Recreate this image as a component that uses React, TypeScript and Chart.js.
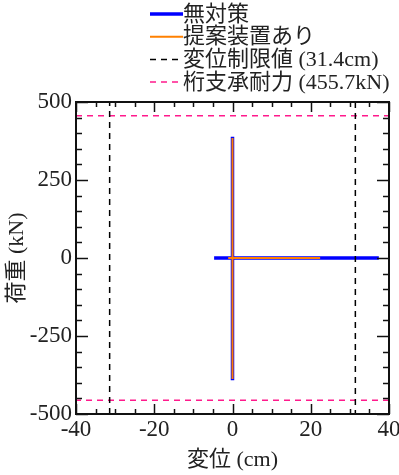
import React, { useEffect, useRef } from 'react';
import { Chart, registerables } from 'chart.js';

Chart.register(...registerables);

// ---- data ----
const seriesNames = ['無対策', '提案装置あり', '変位制限値 (31.4cm)', '桁支承耐力 (455.7kN)'];
const noMeasureX = [0, 0, 0, 0, -4.7, 37.4];
const noMeasureY = [0, 389, -392, 0, 0, 0];
const proposedX = [0, 0, 0, 0, -1.1, 22.4];
const proposedY = [0, 385, -388, 0, 0, 0];
const dispLimit = 31.4; // cm
const bearingCap = 455.7; // kN
const xRange = [-40, 40];
const yRange = [-500, 500];
const xStep = 20;
const yStep = 250;
const xMinorStep = 5;
const yMinorStep = 50;
const xTitle = '変位 (cm)';
const yTitle = '荷重 (kN)';

const colors = ['#0000ff', '#ff8000', '#000000', '#ff1a8c'];
const FONT = "'Liberation Serif', 'Noto Sans CJK JP', serif";

const framePlugin = {
  id: 'frameTicks',
  afterDatasetsDraw(chart: any) {
    const { ctx, chartArea, scales } = chart;
    const { left, right, top, bottom } = chartArea;
    const x = scales.x;
    const y = scales.y;
    ctx.save();
    ctx.strokeStyle = '#111';
    ctx.lineWidth = 1.5;
    ctx.setLineDash([]);
    const seg = (x1: number, y1: number, x2: number, y2: number) => {
      ctx.beginPath();
      ctx.moveTo(x1, y1);
      ctx.lineTo(x2, y2);
      ctx.stroke();
    };
    for (let v = xRange[0]; v <= xRange[1] + 1e-9; v += xMinorStep) {
      const px = Math.round(x.getPixelForValue(v)) + 0.5;
      const len = Math.abs(v % xStep) < 1e-9 ? 10 : 5;
      seg(px, bottom, px, bottom - len);
      seg(px, top, px, top + len);
    }
    for (let v = yRange[0]; v <= yRange[1] + 1e-9; v += yMinorStep) {
      const py = Math.round(y.getPixelForValue(v)) + 0.5;
      const len = Math.abs(v % yStep) < 1e-9 ? 12 : 6;
      seg(left, py, left + len, py);
      seg(right, py, right - len, py);
    }
    ctx.lineWidth = 2;
    ctx.strokeRect(left, top, right - left, bottom - top);
    ctx.restore();
  },
  afterDraw(chart: any) {
    const { ctx } = chart;
    ctx.save();
    const x0 = 150;
    const x1 = 183;
    const rowY = [14, 36.7, 59.4, 82];
    const widths = [3.5, 2, 1.5, 1.5];
    const dashes = [[], [], [6, 5], [6, 5]];
    ctx.font = `22px ${FONT}`;
    ctx.textBaseline = 'middle';
    ctx.textAlign = 'left';
    seriesNames.forEach((name, i) => {
      ctx.strokeStyle = colors[i];
      ctx.lineWidth = widths[i];
      ctx.setLineDash(dashes[i]);
      ctx.beginPath();
      ctx.moveTo(x0, rowY[i]);
      ctx.lineTo(x1, rowY[i]);
      ctx.stroke();
      ctx.setLineDash([]);
      ctx.fillStyle = '#222';
      ctx.fillText(name, x1, rowY[i] + 1);
    });
    ctx.restore();
  },
};

export default function App() {
  const ref = useRef<HTMLCanvasElement | null>(null);
  useEffect(() => {
    document.body.style.margin = '0';
    const canvas = ref.current!;
    const toPts = (xs: number[], ys: number[]) => xs.map((v, i) => ({ x: v, y: ys[i] }));
    const chart = new Chart(canvas, {
      type: 'line',
      data: {
        datasets: [
          {
            label: seriesNames[0],
            data: toPts(noMeasureX, noMeasureY),
            borderColor: colors[0],
            borderWidth: 3.5,
            pointRadius: 0,
            order: 4,
          },
          {
            label: seriesNames[1],
            data: toPts(proposedX, proposedY),
            borderColor: colors[1],
            borderWidth: 2,
            pointRadius: 0,
            order: 3,
          },
          {
            label: seriesNames[2],
            data: [
              { x: -dispLimit, y: yRange[0] },
              { x: -dispLimit, y: yRange[1] },
              { x: 0, y: null },
              { x: dispLimit, y: yRange[1] },
              { x: dispLimit, y: yRange[0] },
            ] as any,
            borderColor: colors[2],
            borderWidth: 1.5,
            borderDash: [6, 5],
            pointRadius: 0,
            spanGaps: false,
            order: 1,
          },
          {
            label: seriesNames[3],
            data: [
              { x: xRange[0], y: bearingCap },
              { x: xRange[1], y: bearingCap },
              { x: 0, y: null },
              { x: xRange[1], y: -bearingCap },
              { x: xRange[0], y: -bearingCap },
            ] as any,
            borderColor: colors[3],
            borderWidth: 1.5,
            borderDash: [6, 5],
            pointRadius: 0,
            spanGaps: false,
            order: 2,
          },
        ],
      },
      options: {
        responsive: false,
        animation: false,
        devicePixelRatio: 1,
        layout: { padding: { top: 102, right: 10, left: 0, bottom: 0 } },
        plugins: { legend: { display: false }, tooltip: { enabled: false } },
        elements: { line: { tension: 0, fill: false } },
        scales: {
          x: {
            type: 'linear',
            min: xRange[0],
            max: xRange[1],
            grid: { display: false, drawTicks: false },
            border: { display: false },
            ticks: {
              stepSize: xStep,
              autoSkip: false,
              maxRotation: 0,
              padding: 2,
              color: '#222',
              font: { family: FONT, size: 23 },
            },
            title: {
              display: true,
              text: xTitle,
              color: '#222',
              font: { family: FONT, size: 22 },
              padding: { top: 0, bottom: 2 },
            },
            afterFit: (s: any) => {
              s.height = 61;
              s.paddingLeft = 0;
              s.paddingRight = 0;
            },
          },
          y: {
            type: 'linear',
            min: yRange[0],
            max: yRange[1],
            grid: { display: false, drawTicks: false },
            border: { display: false },
            ticks: {
              stepSize: yStep,
              autoSkip: false,
              padding: 4,
              color: '#222',
              font: { family: FONT, size: 23 },
            },
            title: {
              display: true,
              text: yTitle,
              color: '#222',
              font: { family: FONT, size: 22 },
              padding: { top: 4, bottom: 0 },
            },
            afterFit: (s: any) => {
              s.width = 76;
              s.paddingTop = 0;
              s.paddingBottom = 0;
            },
          },
        },
      },
      plugins: [framePlugin],
    } as any);
    return () => chart.destroy();
  }, []);
  return <canvas ref={ref} width={399} height={475} style={{ display: 'block' }} />;
}
